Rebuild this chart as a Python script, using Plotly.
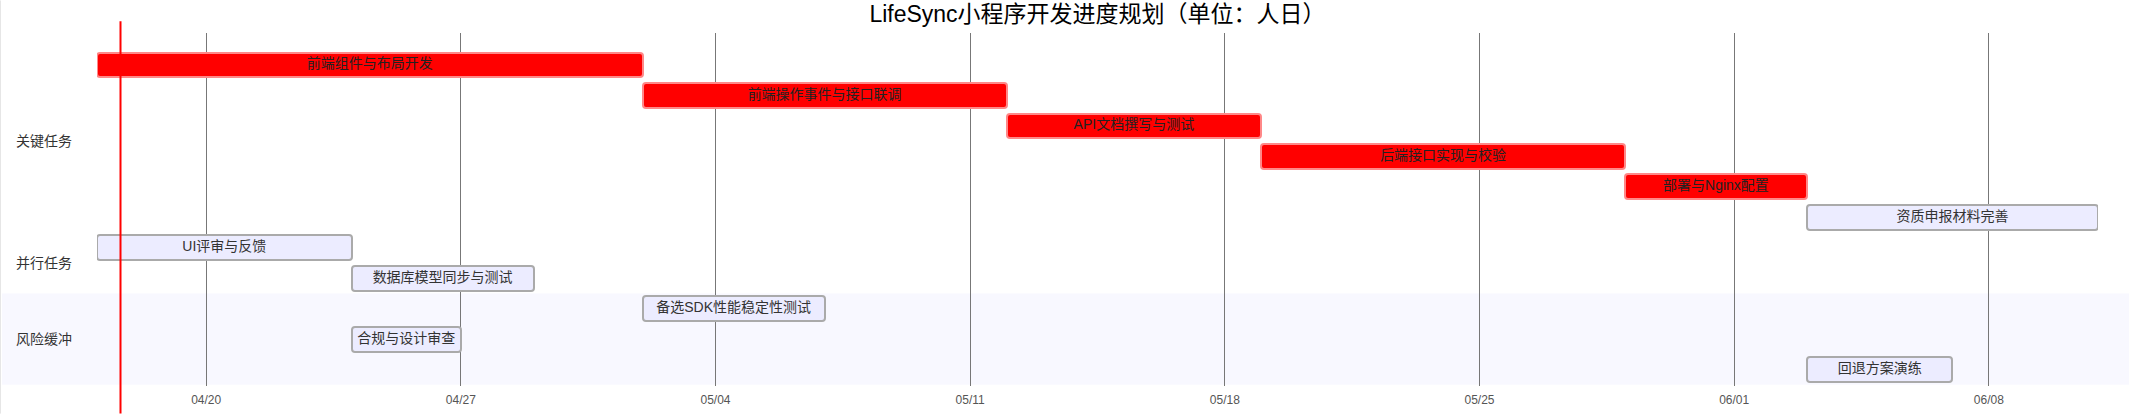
import pandas as pd
import plotly.graph_objects as go

# ---------------- data ----------------
title = "LifeSync小程序开发进度规划（单位：人日）"
tasks = ["前端组件与布局开发", "前端操作事件与接口联调", "API文档撰写与测试",
         "后端接口实现与校验", "部署与Nginx配置", "资质申报材料完善",
         "UI评审与反馈", "数据库模型同步与测试",
         "备选SDK性能稳定性测试", "合规与设计审查", "回退方案演练"]
sections = ["关键任务"] * 6 + ["并行任务"] * 2 + ["风险缓冲"] * 3
starts = ["2025-04-17", "2025-05-02", "2025-05-12", "2025-05-19", "2025-05-29",
          "2025-06-03", "2025-04-17", "2025-04-24", "2025-05-02", "2025-04-24",
          "2025-06-03"]
durations_days = [15, 10, 7, 10, 5, 8, 7, 5, 5, 3, 4]
critical = [True, True, True, True, True, False, False, False, False, False, False]
today = "2025-04-17 15:30"
x_start, x_end = "2025-04-17", "2025-06-11"
tick_start = "2025-04-20"

# ---------------- styles ----------------
FONT = 'Arial, "Liberation Sans", "Noto Sans CJK SC", sans-serif'
W, H = 2129, 419
ML, MR, MT, MB = 97, 31, 33, 28
DAY_MS = 86400000

df = pd.DataFrame({"task": tasks, "section": sections,
                   "start": pd.to_datetime(starts), "dur": durations_days,
                   "crit": critical})
df["row"] = range(len(df))
df["mid"] = df["start"] + pd.to_timedelta(df["dur"] / 2, unit="D")

fig = go.Figure()
for is_crit, fill, line, tcol in [(True, "#ff0000", "#ff8888", "#222222"),
                                  (False, "#ececff", "#aaaaaa", "#333333")]:
    d = df[df["crit"] == is_crit]
    fig.add_trace(go.Bar(
        orientation="h", y=d["row"], base=d["start"].dt.strftime("%Y-%m-%d"),
        x=d["dur"] * DAY_MS, width=0.81,
        marker=dict(color=fill, line=dict(color=line, width=2), cornerradius=3),
        hoverinfo="skip", showlegend=False))
    fig.add_trace(go.Scatter(
        x=d["mid"], y=d["row"], mode="text", text=d["task"],
        textposition="middle center",
        textfont=dict(family=FONT, size=14, color=tcol),
        hoverinfo="skip", showlegend=False))

# section bands and labels
plot_w = W - ML - MR
plot_h = H - MT - MB
sec_order = list(dict.fromkeys(sections))
sec_colors = {"关键任务": "rgba(255,255,255,0)", "并行任务": "rgba(255,255,255,0)",
              "风险缓冲": "#f8f8ff"}
for s in sec_order:
    rows = df.loc[df["section"] == s, "row"]
    fig.add_shape(type="rect", xref="paper", yref="y",
                  x0=-(ML - 2) / plot_w, x1=1 + MR / plot_w,
                  y0=rows.min() - 0.5, y1=rows.max() + 0.5,
                  fillcolor=sec_colors[s], line_width=0, layer="below")
    fig.add_annotation(xref="paper", yref="y", x=-(ML - 14) / plot_w,
                       y=(rows.min() + rows.max()) / 2, text=s, showarrow=False,
                       xanchor="left", yanchor="middle",
                       font=dict(family=FONT, size=14, color="#333333"))

# today marker
fig.add_shape(type="line", xref="x", yref="paper", x0=today, x1=today,
              y0=-MB / plot_h, y1=1 + (MT - 21) / plot_h,
              line=dict(color="#ff0000", width=2), layer="above")
# thin left border
fig.add_shape(type="line", xref="paper", yref="paper",
              x0=-(ML - 0.5) / plot_w, x1=-(ML - 0.5) / plot_w,
              y0=-MB / plot_h, y1=1 + MT / plot_h,
              line=dict(color="#e6e6e6", width=1), layer="below")

fig.update_layout(
    width=W, height=H, margin=dict(l=ML, r=MR, t=MT, b=MB),
    paper_bgcolor="white", plot_bgcolor="rgba(0,0,0,0)",
    title=dict(text=title, x=0.5, xref="paper", y=1 - 14 / H, yref="container",
               xanchor="center", yanchor="middle",
               font=dict(family=FONT, size=23, color="#000000")),
    barmode="overlay", bargap=0,
    xaxis=dict(type="date", range=[x_start, x_end], tick0=tick_start,
               dtick=7 * DAY_MS, tickformat="%m/%d", showgrid=True,
               gridcolor="#777777", gridwidth=1, zeroline=False, showline=False,
               ticks="", ticklabelstandoff=5,
               tickfont=dict(family=FONT, size=12, color="#555555")),
    yaxis=dict(range=[10.537, -1.049], showticklabels=False, showgrid=False,
               zeroline=False, showline=False),
    font=dict(family=FONT),
)

fig.write_html("out.html",
               config={"displayModeBar": False},
               post_script="document.body.style.margin='0';"
                           "document.body.style.overflow='hidden';")
